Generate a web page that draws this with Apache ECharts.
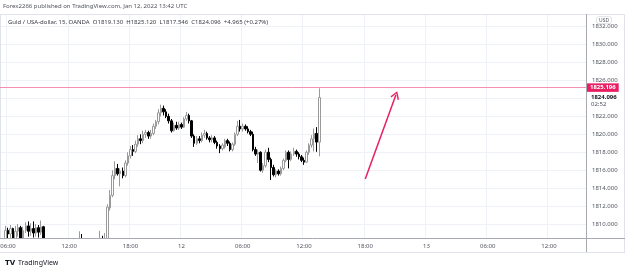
<!DOCTYPE html>
<html>
<head>
<meta charset="utf-8">
<script src="https://cdn.jsdelivr.net/npm/echarts@6/dist/echarts.min.js"></script>
<style>
html,body{margin:0;padding:0;background:#fff;}
#chart{width:625px;height:271px;}
</style>
</head>
<body>
<div id="chart"></div>
<script>
// ---- data (15-minute candles, Jan 11 05:15 -> Jan 12 13:30) ----
const openP = [
1807.4,1807.9,1808.2,1809.3,1808.9,1809.5,1808.3,1809.2,1809.6,1808.4,
1809.3,1809.8,1809.2,1809.5,1809.0,1809.6,1809.1,1809.7,1808.0,1807.4,
1806.8,1807.1,1806.5,1805.9,1806.3,1805.8,1806.4,1806.9,1806.6,1807.2,
1806.8,1807.5,1807.9,1807.3,1806.6,1806.1,1806.7,1807.3,1807.0,1807.6,
1807.9,1807.4,1807.8,1811.8,1813.2,1815.4,1816.2,1815.6,1815.9,1815.4,
1816.8,1817.6,1818.3,1818.1,1818.9,1819.5,1819.3,1820.0,1820.2,1819.8,
1820.1,1820.9,1821.4,1822.4,1822.9,1822.5,1822.0,1821.5,1820.4,1821.0,
1820.7,1821.1,1820.8,1821.7,1822.1,1821.5,1819.8,1819.0,1819.5,1819.3,
1819.9,1820.1,1819.6,1819.4,1819.6,1819.1,1818.7,1818.4,1818.6,1819.3,
1819.0,1818.3,1818.9,1820.0,1820.9,1820.6,1820.9,1820.6,1820.3,1820.0,
1818.3,1817.8,1818.0,1816.0,1816.5,1818.0,1817.2,1816.3,1815.5,1815.9,
1815.6,1816.2,1817.1,1818.0,1817.2,1817.8,1818.1,1817.8,1817.5,1817.1,
1816.9,1818.0,1818.8,1819.5,1820.1,1819.13
];
const closeP = [
1807.9,1808.2,1809.3,1808.9,1809.5,1808.3,1809.2,1809.6,1808.4,1809.3,
1809.8,1809.2,1809.5,1809.0,1809.6,1809.1,1809.7,1808.0,1807.4,1806.8,
1807.1,1806.5,1805.9,1806.3,1805.8,1806.4,1806.9,1806.6,1807.2,1806.8,
1807.5,1807.9,1807.3,1806.6,1806.1,1806.7,1807.3,1807.0,1807.6,1807.9,
1807.4,1807.8,1811.9,1813.2,1815.4,1816.2,1815.6,1815.9,1815.4,1816.8,
1817.6,1818.3,1818.1,1818.9,1819.5,1819.3,1820.0,1820.2,1819.8,1820.1,
1820.9,1821.4,1822.4,1822.9,1822.5,1822.0,1821.5,1820.4,1821.0,1820.7,
1821.1,1820.8,1821.7,1822.1,1821.5,1819.8,1819.0,1819.5,1819.3,1819.9,
1820.1,1819.6,1819.4,1819.6,1819.1,1818.7,1818.4,1818.8,1819.3,1819.0,
1818.3,1818.9,1820.0,1820.9,1820.6,1820.9,1820.6,1820.3,1820.0,1818.3,
1817.8,1818.0,1816.0,1816.5,1818.0,1817.2,1816.3,1815.5,1815.9,1815.6,
1816.2,1817.1,1818.0,1817.2,1817.8,1818.1,1817.8,1817.5,1817.1,1816.9,
1818.0,1818.8,1819.5,1820.1,1819.131,1824.096
];
const lowP = [
1807.0,1807.5,1808.0,1808.3,1808.1,1808.0,1808.1,1808.6,1808.2,1808.2,
1809.0,1808.6,1808.7,1808.5,1808.6,1808.5,1808.8,1807.7,1807.0,1806.5,
1806.2,1806.0,1805.5,1805.4,1805.2,1805.5,1806.0,1806.1,1806.3,1806.4,
1806.5,1807.1,1806.9,1806.2,1805.7,1805.8,1806.4,1806.6,1806.8,1807.2,
1807.0,1806.9,1807.5,1811.5,1813.0,1815.0,1815.4,1814.2,1815.1,1815.2,
1816.5,1817.3,1817.6,1817.9,1818.6,1818.9,1819.0,1819.6,1819.5,1819.5,
1819.9,1820.6,1821.1,1822.0,1822.1,1821.8,1821.2,1820.2,1820.3,1820.5,
1820.5,1820.6,1820.7,1821.5,1821.2,1819.6,1818.6,1818.8,1819.0,1819.1,
1819.6,1819.4,1819.1,1819.1,1818.9,1818.4,1817.9,1818.2,1818.4,1818.7,
1818.1,1818.1,1818.7,1819.8,1820.3,1820.3,1820.4,1820.1,1819.8,1818.1,
1817.6,1816.8,1815.85,1815.7,1816.3,1816.9,1814.9,1815.3,1815.2,1815.4,
1815.4,1816.0,1816.9,1816.2,1817.0,1817.6,1817.5,1817.2,1816.9,1816.6,
1816.8,1817.7,1818.5,1818.1,1818.05,1817.546
];
const highP = [
1808.2,1808.35,1809.8,1809.6,1809.9,1809.6,1809.8,1810.0,1809.8,1809.7,
1810.2,1810.3,1810.1,1810.3,1810.0,1809.9,1810.4,1809.8,1808.3,1807.7,
1807.5,1807.4,1806.8,1806.7,1806.6,1806.9,1807.3,1807.4,1807.6,1807.9,
1808.0,1809.2,1808.9,1807.6,1806.9,1807.0,1807.6,1807.8,1808.1,1809.25,
1808.7,1809.0,1812.2,1813.8,1816.0,1817.0,1816.7,1816.2,1816.3,1817.1,
1818.0,1818.7,1818.8,1819.3,1819.9,1820.0,1820.4,1820.5,1820.4,1820.5,
1821.2,1821.6,1822.8,1823.3,1823.2,1822.8,1822.3,1821.7,1821.3,1821.4,
1821.4,1821.3,1821.9,1822.5,1822.3,1821.6,1820.0,1819.8,1819.8,1820.2,
1820.5,1820.3,1819.8,1819.9,1819.8,1819.3,1818.9,1819.0,1819.5,1819.5,
1819.2,1819.1,1820.2,1821.5,1821.6,1821.2,1821.1,1820.9,1820.5,1820.3,
1818.6,1818.3,1818.1,1816.8,1818.3,1818.5,1817.4,1816.6,1816.1,1816.1,
1816.4,1817.3,1818.2,1818.2,1818.1,1818.5,1818.3,1818.0,1817.7,1817.4,
1818.2,1819.0,1819.9,1820.65,1820.8,1825.12
];

// horizontal drawn level, arrow annotation, countdown text
const levelPrice = 1825.196;
const arrowFrom = ['2022-01-12 18:00', 1815.02];
const arrowTo = ['2022-01-12 21:00', 1824.38];
const countdown = '02:52';
const majorTimes = ['00:00', '06:00', '12:00', '18:00'];
const hiddenPriceTicks = [1824]; // covered by the last-price label in the reference

// ---- time slots (daily break 22:00-23:00 on Jan 11 is skipped) ----
const slotCount = 230;
const pad = n => (n < 10 ? '0' : '') + n;
const fmt = t => { const d = new Date(t); return d.getUTCFullYear() + '-' + pad(d.getUTCMonth() + 1) + '-' + pad(d.getUTCDate()) + ' ' + pad(d.getUTCHours()) + ':' + pad(d.getUTCMinutes()); };
const breakStart = Date.UTC(2022, 0, 11, 22, 0), breakEnd = Date.UTC(2022, 0, 11, 23, 0);
const categories = [];
for (let t = Date.UTC(2022, 0, 11, 5, 15); categories.length < slotCount; t += 15 * 60000) {
  if (t >= breakStart && t < breakEnd) continue;
  categories.push(fmt(t));
}
const candleData = openP.map((o, i) => [o, closeP[i], lowP[i], highP[i]]);
const last = candleData.length - 1;
const chg = closeP[last] - closeP[last - 1];
const chgPct = chg / closeP[last - 1] * 100;

const FONT = 'Noto Sans';
const isMajor = (idx, v) => majorTimes.indexOf(v.slice(11)) >= 0;
const chevron = 'path://M5,0 L10,8 L8.7,9 L5,2.8 L1.3,9 L0,8 Z';
const ARROW_COLOR = '#e91e63';
const LEVEL_COLOR = '#f48fb1';

const chart = echarts.init(document.getElementById('chart'), null, { renderer: 'canvas' });
chart.setOption({
  animation: false,
  backgroundColor: '#ffffff',
  textStyle: { fontFamily: FONT },
  grid: { left: -1, width: 587, top: 14, bottom: 33, containLabel: false, outerBoundsMode: 'none' },
  xAxis: [{
    type: 'category',
    data: categories,
    position: 'bottom',
    boundaryGap: true,
    z: 0,
    axisLine: { show: false },
    axisTick: { show: false },
    axisLabel: { show: false, interval: isMajor },
    splitLine: { show: true, interval: isMajor, lineStyle: { color: '#eef1f6', width: 1 } }
  }, {
    type: 'category',
    data: categories,
    position: 'bottom',
    offset: 0,
    boundaryGap: true,
    z: 10,
    axisLine: { show: false },
    axisTick: { show: false },
    axisLabel: {
      interval: isMajor,
      formatter: v => v.slice(11) === '00:00' ? String(+v.slice(8, 10)) : v.slice(11),
      color: '#50535e', fontSize: 6, fontFamily: FONT, margin: 5
    },
    splitLine: { show: false }
  }],
  yAxis: {
    type: 'value',
    position: 'right',
    min: 1808.45,
    max: 1833.4,
    splitNumber: 12,
    scale: true,
    z: 0,
    axisLine: { show: false },
    axisTick: { show: false },
    axisLabel: {
      showMinLabel: false, showMaxLabel: false,
      formatter: v => hiddenPriceTicks.indexOf(v) >= 0 ? '' : v.toFixed(3),
      color: '#50535e', fontSize: 6, fontFamily: FONT, margin: 6
    },
    splitLine: { show: true, lineStyle: { color: '#eef1f6', width: 1 } }
  },
  series: [{
    type: 'candlestick',
    xAxisIndex: 0,
    data: candleData,
    clip: true,
    barWidth: 2,
    z: 2,
    itemStyle: {
      color: '#ffffff', color0: '#000000',
      borderColor: '#9a9a9a', borderColor0: '#000000',
      borderWidth: 1
    },
    markLine: {
      silent: true,
      animation: false,
      symbol: ['none', 'none'],
      lineStyle: { type: 'solid', width: 1, color: LEVEL_COLOR, opacity: 1 },
      data: [
        {
          yAxis: levelPrice,
          lineStyle: { color: LEVEL_COLOR, width: 1, type: 'solid', opacity: 1 },
          label: {
            show: true, position: 'end', distance: 1,
            formatter: levelPrice.toFixed(3),
            color: '#ffffff', backgroundColor: ARROW_COLOR,
            fontSize: 6, fontWeight: 'bold', fontFamily: FONT,
            padding: [1.5, 3, 1, 3]
          }
        }
      ]
    }
  }, {
    type: 'line',
    xAxisIndex: 0,
    z: 4,
    silent: true,
    symbol: 'none',
    showAllSymbol: true,
    lineStyle: { color: ARROW_COLOR, width: 1.5, type: 'solid' },
    itemStyle: { color: ARROW_COLOR },
    data: [
      { value: arrowFrom, symbol: 'none' },
      { value: arrowTo, symbol: chevron, symbolSize: [9, 8], symbolRotate: -20 }
    ]
  }],
  graphic: [
    { type: 'rect', z: 1, shape: { x: 0.5, y: 14.5, width: 624, height: 238 }, style: { fill: 'none', stroke: '#e0e3eb', lineWidth: 1 } },
    { type: 'rect', z: 5, shape: { x: 0, y: 239, width: 586, height: 19 }, style: { fill: '#ffffff' } },
    { type: 'line', z: 60, shape: { x1: 0, y1: 252.5, x2: 625, y2: 252.5 }, style: { stroke: '#e0e3eb', lineWidth: 1 } },
    { type: 'line', z: 60, shape: { x1: 0, y1: 238.5, x2: 625, y2: 238.5 }, style: { stroke: '#a7aab3', lineWidth: 1 } },
    { type: 'line', z: 60, shape: { x1: 586.5, y1: 14, x2: 586.5, y2: 252 }, style: { stroke: '#a7aab3', lineWidth: 1 } },
    { type: 'text', z: 60, x: 3, y: 6, style: { text: 'Forex2266 published on TradingView.com, Jan 12, 2022 13:42 UTC', fontSize: 6, fontFamily: FONT, fill: '#50535e', verticalAlign: 'middle' } },
    { type: 'text', z: 60, x: 8, y: 22, style: {
        text: 'Guld / USA-dollar, 15, OANDA  O' + openP[last].toFixed(3) + '  H' + highP[last].toFixed(3) + '  L' + lowP[last].toFixed(3) + '  C' + closeP[last].toFixed(3) + '  ' + (chg >= 0 ? '+' : '') + chg.toFixed(3) + ' (' + (chgPct >= 0 ? '+' : '') + chgPct.toFixed(2) + '%)',
        fontSize: 6, fontFamily: FONT, fill: '#3a3d45', verticalAlign: 'middle' } },
    { type: 'text', z: 100, x: 591, y: 97.5, style: { text: closeP[last].toFixed(3), fontSize: 6, fontWeight: 'bold', fontFamily: FONT, fill: '#131722', verticalAlign: 'middle' } },
    { type: 'text', z: 100, x: 591, y: 104.5, style: { text: countdown, fontSize: 6, fontFamily: FONT, fill: '#50535e', verticalAlign: 'middle' } },
    { type: 'text', z: 100, x: 597, y: 17, style: { text: 'USD', fontSize: 5, fontFamily: FONT, fill: '#50535e', backgroundColor: '#ffffff', borderColor: '#c9ccd3', borderWidth: 0.6, borderRadius: 2, padding: [1, 2, 0.5, 2] } },
    { type: 'text', z: 60, x: 5, y: 263, style: { text: 'TV', fontSize: 7, fontWeight: 'bold', fontFamily: 'DejaVu Sans', fill: '#131722', verticalAlign: 'middle' } },
    { type: 'text', z: 60, x: 18, y: 263, style: { text: 'TradingView', fontSize: 7, fontFamily: FONT, fill: '#131722', verticalAlign: 'middle' } }
  ]
});
</script>
</body>
</html>
